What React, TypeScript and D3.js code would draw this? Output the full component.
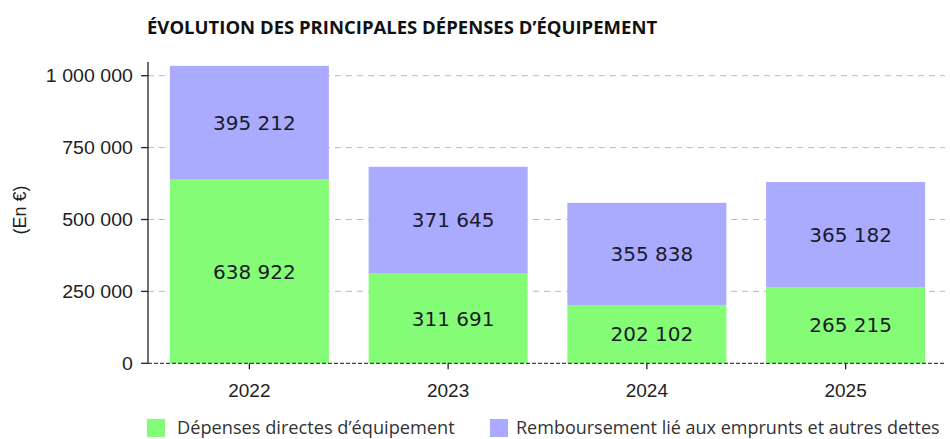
import React from "react";
import * as d3 from "d3";

const years = ["2022", "2023", "2024", "2025"];
const directes = [638922, 311691, 202102, 265215];
const remboursement = [395212, 371645, 355838, 365182];
const yTicks = [0, 250000, 500000, 750000, 1000000];
const seriesNames = ["Dépenses directes d’équipement", "Remboursement lié aux emprunts et autres dettes"];
const titleText = "ÉVOLUTION DES PRINCIPALES DÉPENSES D’ÉQUIPEMENT";
const yTitle = "(En €)";

const W = 950;
const H = 439;
const GREEN = "#85fc75";
const PURPLE = "#aaaaff";

const fmt = (v: number) => {
  const s = Math.round(v).toString();
  return s.replace(/\B(?=(\d{3})+(?!\d))/g, " ");
};

export default function App() {
  const x = d3.scaleBand<string>().domain(years).range([150, 945]).paddingInner(0.2).paddingOuter(0.1);
  const y = d3.scaleLinear().domain([0, 1000000]).range([363.3, 75.7]);
  const axisX = 148;
  const axisRight = 945;

  const rows = years.map((yr, i) => ({ yr, a: directes[i], b: remboursement[i] }));
  const stack = d3.stack<any>().keys(["a", "b"])(rows as any);
  const colors = [GREEN, PURPLE];

  return (
    <svg width={W} height={H} style={{ position: "absolute", left: 0, top: 0 }}>
      <rect x={0} y={0} width={W} height={H} fill="#fff" />
      <text x={147} y={34} fontFamily="'Open Sans'" fontWeight={700} fontSize={18.5} fill="#111">
        {titleText}
      </text>
      {/* gridlines */}
      {yTicks.filter(t => t > 0).map(t => (
        <line key={t} x1={axisX} x2={axisRight} y1={y(t)} y2={y(t)} stroke="#bbb" strokeWidth={1} strokeDasharray="6,5" />
      ))}
      {/* bars */}
      {stack.map((layer, li) =>
        layer.map((d, i) => (
          <rect
            key={li + "-" + i}
            x={x(years[i])}
            width={x.bandwidth()}
            y={y(d[1])}
            height={y(d[0]) - y(d[1])}
            fill={colors[li]}
          />
        ))
      )}
      {/* value labels */}
      {stack.map((layer, li) =>
        layer.map((d, i) => (
          <text
            key={"l" + li + "-" + i}
            x={(x(years[i]) as number) + x.bandwidth() / 2 + 5}
            y={(y(d[0]) + y(d[1])) / 2}
            dy="0.36em"
            textAnchor="middle"
            fontFamily="'DejaVu Sans'"
            fontSize={20}
            fill="#1a1a2a"
          >
            {fmt(d[1] - d[0])}
          </text>
        ))
      )}
      {/* y axis */}
      <line x1={axisX} x2={axisX} y1={62} y2={y(0)} stroke="#222" strokeWidth={1.3} />
      {yTicks.map(t => (
        <g key={"yt" + t}>
          <line x1={axisX - 7} x2={axisX} y1={y(t)} y2={y(t)} stroke="#222" strokeWidth={1.3} />
          <text
            transform={`translate(133, ${y(t)}) scale(1.12, 1)`}
            dy="0.36em"
            textAnchor="end"
            fontFamily="'Liberation Sans', Arial"
            fontSize={17.5}
            fill="#222"
          >
            {fmt(t)}
          </text>
        </g>
      ))}
      <text
        transform={`translate(26, 210) rotate(-90)`}
        textAnchor="middle"
        fontFamily="'Liberation Sans', Arial"
        fontSize={18}
        fill="#222"
      >
        {yTitle}
      </text>
      {/* x axis */}
      <line x1={axisX} x2={axisRight} y1={y(0)} y2={y(0)} stroke="#444" strokeWidth={1.3} strokeDasharray="4,2" />
      {years.map(yr => {
        const cx = (x(yr) as number) + x.bandwidth() / 2;
        return (
          <g key={"xt" + yr}>
            <line x1={cx} x2={cx} y1={y(0)} y2={y(0) + 6} stroke="#222" strokeWidth={1.3} />
            <text
              x={cx}
              y={397}
              textAnchor="middle"
              fontFamily="'Liberation Sans', Arial"
              fontSize={19}
              fill="#222"
            >
              {yr}
            </text>
          </g>
        );
      })}
      {/* legend */}
      <rect x={147} y={419} width={18} height={18} fill={GREEN} />
      <text x={177} y={434} fontFamily="'Open Sans'" fontSize={18.2} fill="#333">
        {seriesNames[0]}
      </text>
      <rect x={490} y={419} width={18} height={18} fill={PURPLE} />
      <text x={516} y={434} fontFamily="'Open Sans'" fontSize={18} fill="#333">
        {seriesNames[1]}
      </text>
    </svg>
  );
}
